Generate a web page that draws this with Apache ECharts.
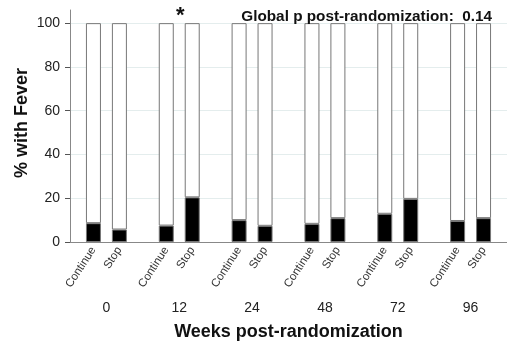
<!DOCTYPE html>
<html>
<head>
<meta charset="utf-8">
<script src="https://cdn.jsdelivr.net/npm/echarts@6/dist/echarts.min.js"></script>
<style>
html, body { margin: 0; padding: 0; background: #fff; }
#chart { width: 507px; height: 346px; }
</style>
</head>
<body>
<div id="chart"></div>
<script>
// weeks post-randomization
var weeks = ['0', '12', '24', '48', '72', '96'];
// % with fever per arm
var continueFever = [8.6, 7.5, 10.0, 8.3, 12.9, 9.6];
var stopFever = [5.7, 20.4, 7.4, 10.9, 19.7, 10.9];
var yTicks = [0, 20, 40, 60, 80, 100];

// white remainder up to 100%
var continueRest = continueFever.map(function (v) { return 100 - v; });
var stopRest = stopFever.map(function (v) { return 100 - v; });

var myChart = echarts.init(document.getElementById('chart'));

var barBorder = { borderColor: '#777', borderWidth: 1 };

function armLabel(text) {
    return {
        show: true,
        position: 'bottom',
        distance: 6,
        rotate: 57,
        align: 'right',
        verticalAlign: 'middle',
        fontFamily: 'Liberation Sans, Arial, sans-serif',
        fontSize: 11.5,
        color: '#333',
        formatter: text
    };
}

var option = {
    animation: false,
    textStyle: { fontFamily: 'Liberation Sans, Arial, sans-serif' },
    title: {
        text: 'Global p post-randomization:  0.14',
        right: 10,
        top: 4,
        textStyle: { fontSize: 15.3, fontWeight: 'bold', color: '#111' }
    },
    graphic: [
        {
            type: 'text',
            left: 176,
            top: 5,
            style: { text: '*', fontSize: 22, fontWeight: 'bold', fill: '#111' }
        },
        {
            // y axis title
            type: 'text',
            x: 22,
            y: 123,
            rotation: Math.PI / 2,
            style: {
                text: '% with Fever',
                fontSize: 18,
                fontWeight: 'bold',
                fill: '#111',
                align: 'center',
                verticalAlign: 'middle'
            }
        }
    ],
    grid: { left: 70, right: -7, top: 10, bottom: 103 },
    xAxis: {
        type: 'category',
        data: weeks,
        name: 'Weeks post-randomization',
        nameLocation: 'middle',
        nameGap: 81,
        nameTextStyle: { fontSize: 18, fontWeight: 'bold', color: '#111' },
        axisLine: { lineStyle: { color: '#888', width: 1 } },
        axisTick: { show: false },
        axisLabel: { margin: 59, fontSize: 14, color: '#222' },
        splitLine: { show: false }
    },
    yAxis: {
        type: 'value',
        min: 0,
        max: 106,
        interval: 20,
        axisLine: { show: true, lineStyle: { color: '#888', width: 1 } },
        axisTick: { show: true, length: 5, lineStyle: { color: '#555' } },
        axisLabel: {
            margin: 10,
            fontSize: 14,
            color: '#222',
            showMaxLabel: false,
            formatter: function (v) { return yTicks.indexOf(v) >= 0 ? String(v) : ''; }
        },
        splitLine: { show: true, showMaxLine: false, lineStyle: { color: '#e4eded', width: 1 } }
    },
    series: [
        {
            name: 'Continue fever',
            type: 'bar',
            stack: 'continue',
            barWidth: 15,
            barGap: '73%',
            data: continueFever,
            itemStyle: Object.assign({ color: '#000' }, barBorder),
            label: armLabel('Continue')
        },
        {
            name: 'Continue no fever',
            type: 'bar',
            stack: 'continue',
            barWidth: 15,
            barGap: '73%',
            data: continueRest,
            itemStyle: Object.assign({ color: '#fff' }, barBorder)
        },
        {
            name: 'Stop fever',
            type: 'bar',
            stack: 'stop',
            barWidth: 15,
            barGap: '73%',
            data: stopFever,
            itemStyle: Object.assign({ color: '#000' }, barBorder),
            label: armLabel('Stop')
        },
        {
            name: 'Stop no fever',
            type: 'bar',
            stack: 'stop',
            barWidth: 15,
            barGap: '73%',
            data: stopRest,
            itemStyle: Object.assign({ color: '#fff' }, barBorder)
        }
    ]
};

myChart.setOption(option);
</script>
</body>
</html>
